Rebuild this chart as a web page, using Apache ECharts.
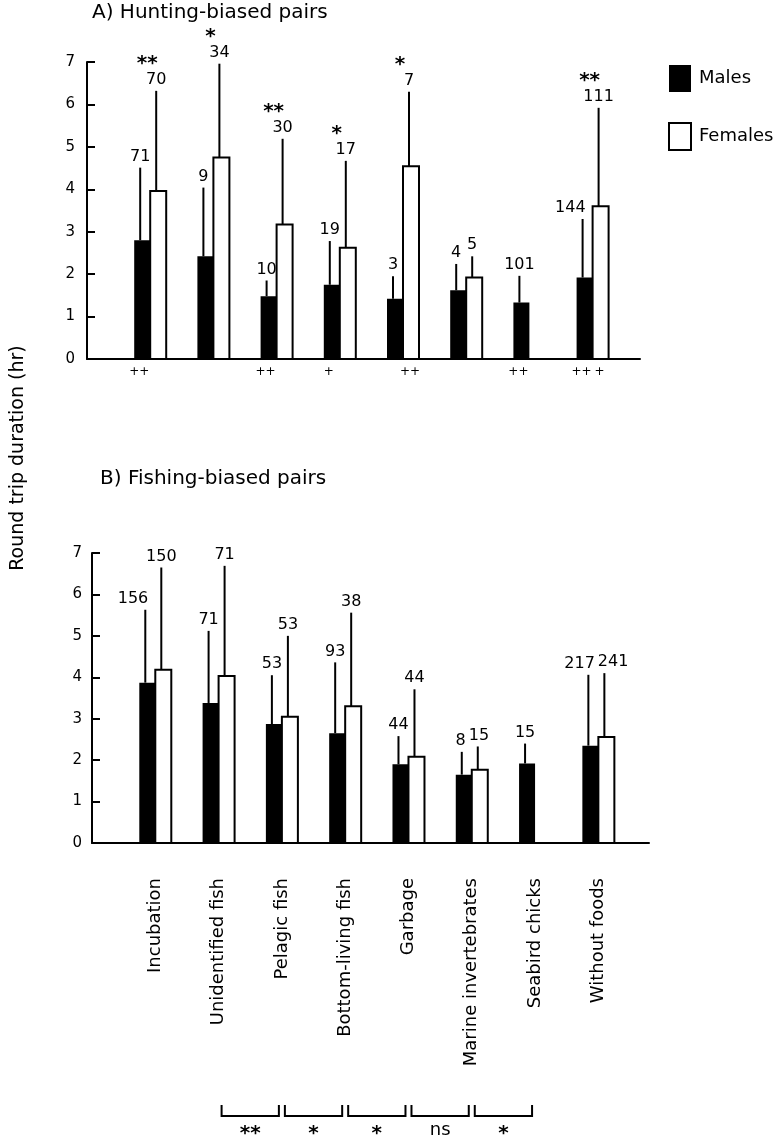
<!DOCTYPE html>
<html>
<head>
<meta charset="utf-8">
<script src="https://cdn.jsdelivr.net/npm/echarts@6/dist/echarts.min.js"></script>
<style>
html,body{margin:0;padding:0;background:#fff;}
#chart{width:776px;height:1137px;}
</style>
</head>
<body>
<div id="chart"></div>
<script>
// ---------- data ----------
const categories = ['Incubation', 'Unidentified fish', 'Pelagic fish', 'Bottom-living fish', 'Garbage', 'Marine invertebrates', 'Seabird chicks', 'Without foods'];
const yTicks = [0, 1, 2, 3, 4, 5, 6, 7];

// A) Hunting-biased pairs: mean, upper end of error bar, sample size
const huntMaleMean   = [2.80, 2.42, 1.48, 1.75, 1.42, 1.62, 1.33, 1.92];
const huntMaleErr    = [4.51, 4.04, 1.85, 2.78, 1.95, 2.24, 1.96, 3.30];
const huntMaleN      = [71, 9, 10, 19, 3, 4, 101, 144];
const huntFemaleMean = [3.96, 4.75, 3.17, 2.62, 4.54, 1.92, null, 3.60];
const huntFemaleErr  = [6.32, 6.96, 5.19, 4.67, 6.30, 2.42, null, 5.92];
const huntFemaleN    = [70, 34, 30, 17, 7, 5, null, 111];
const huntStars      = ['**', '*', '**', '*', '*', '', '', '**'];
const huntPlusMale   = ['++', '', '++', '+', '', '', '++', '++'];
const huntPlusFemale = ['', '', '', '', '++', '', '', '+'];

// B) Fishing-biased pairs
const fishMaleMean   = [3.87, 3.38, 2.87, 2.65, 1.90, 1.65, 1.92, 2.35];
const fishMaleErr    = [5.63, 5.12, 4.05, 4.36, 2.58, 2.20, 2.40, 4.06];
const fishMaleN      = [156, 71, 53, 93, 44, 8, 15, 217];
const fishFemaleMean = [4.18, 4.03, 3.05, 3.30, 2.08, 1.77, null, 2.56];
const fishFemaleErr  = [6.65, 6.69, 5.00, 5.56, 3.71, 2.33, null, 4.10];
const fishFemaleN    = [150, 71, 53, 38, 44, 15, null, 241];

// comparisons between successive categories (1-based category positions)
const bracketFrom   = [2, 3, 4, 5, 6];
const bracketTo     = [3, 4, 5, 6, 7];
const bracketLabels = ['**', '*', '*', 'ns', '*'];

// ---------- helpers ----------
const FONT = '"DejaVu Sans", Arial, sans-serif';
const BW = 16;          // bar width in px
const NFS = 16;         // sample size label font size

function barSeries(name, axis, means, errs, isMale) {
  const data = [];
  means.forEach((m, i) => { if (m != null) data.push([i + 1, m, errs[i]]); });
  return {
    type: 'custom', name: name, xAxisIndex: axis, yAxisIndex: axis,
    itemStyle: isMale ? { color: '#000' } : { color: '#fff', borderColor: '#000', borderWidth: 2 },
    data: data,
    renderItem: function (params, api) {
      const x = api.value(0);
      const base = api.coord([x, 0]);
      const top = api.coord([x, api.value(1)]);
      const et = api.coord([x, api.value(2)]);
      const left = isMale ? base[0] - BW : base[0];
      const lx = left + BW / 2 - 2;
      return {
        type: 'group',
        children: [
          { type: 'rect', shape: { x: left, y: top[1], width: BW, height: base[1] - top[1] },
            style: isMale ? { fill: '#000' } : { fill: '#fff', stroke: '#000', lineWidth: 2 } },
          { type: 'line', shape: { x1: lx, y1: top[1], x2: lx, y2: et[1] },
            style: { stroke: '#000', lineWidth: 2 } }
        ]
      };
    }
  };
}

function labelSeries(axis, mErr, mN, fErr, fN) {
  return {
    type: 'custom', xAxisIndex: axis, yAxisIndex: axis, silent: true,
    data: categories.map((c, i) => [i + 1]),
    renderItem: function (params, api) {
      const i = params.dataIndex;
      const x = api.value(0);
      const c = api.coord([x, 0])[0];
      const mx = c - BW / 2 - 2, fx = c + BW / 2 - 2;
      const wOf = s => String(s).length * 0.636 * NFS;
      const mY = api.coord([x, mErr[i]])[1] - 3;
      let mC = mx;
      const mW = wOf(mN[i]);
      const children = [];
      let fC = fx, fY = null, fW = 0;
      if (fN[i] != null) {
        fY = api.coord([x, fErr[i]])[1] - 3;
        fW = wOf(fN[i]);
        // female error line passes through the male label: shift male label left
        if (fY < mY - NFS * 0.75 && mC + mW / 2 > fx - 1) {
          mC = mx + 3 - mW / 2;
        }
        // labels at similar height overlapping: push apart
        if (Math.abs(fY - mY) < NFS * 0.8) {
          const ov = (mC + mW / 2) - (fC - fW / 2) + 3;
          if (ov > 0) { mC -= ov / 2; fC += ov / 2; }
        }
        children.push({ type: 'text', x: fC, y: fY,
          style: { text: String(fN[i]), font: NFS + 'px ' + FONT, fill: '#000', textAlign: 'center', textVerticalAlign: 'bottom' } });
      }
      children.push({ type: 'text', x: mC, y: mY,
        style: { text: String(mN[i]), font: NFS + 'px ' + FONT, fill: '#000', textAlign: 'center', textVerticalAlign: 'bottom' } });
      return { type: 'group', children: children };
    }
  };
}

const starSeries = {
  type: 'custom', xAxisIndex: 0, yAxisIndex: 0, silent: true,
  data: categories.map((c, i) => [i + 1]),
  renderItem: function (params, api) {
    const i = params.dataIndex;
    if (!huntStars[i]) return null;
    const x = api.value(0);
    const c = api.coord([x, 0])[0];
    const y = api.coord([x, huntFemaleErr[i]])[1] - 27;
    return { type: 'text', x: c - 3, y: y,
      style: { text: huntStars[i], font: 'bold 20px ' + FONT, fill: '#000', textAlign: 'center', textVerticalAlign: 'middle' } };
  }
};

const plusSeries = {
  type: 'custom', xAxisIndex: 0, yAxisIndex: 0, silent: true,
  data: categories.map((c, i) => [i + 1]),
  renderItem: function (params, api) {
    const i = params.dataIndex;
    const x = api.value(0);
    const p = api.coord([x, 0]);
    const ch = [];
    if (huntPlusMale[i]) ch.push({ type: 'text', x: p[0] - BW / 2 - 3, y: p[1] + 13,
      style: { text: huntPlusMale[i], font: '12px ' + FONT, fill: '#000', textAlign: 'center', textVerticalAlign: 'middle' } });
    if (huntPlusFemale[i]) ch.push({ type: 'text', x: p[0] + BW / 2 - 1, y: p[1] + 13,
      style: { text: huntPlusFemale[i], font: '12px ' + FONT, fill: '#000', textAlign: 'center', textVerticalAlign: 'middle' } });
    return { type: 'group', children: ch };
  }
};

const bracketSeries = {
  type: 'custom', xAxisIndex: 1, yAxisIndex: 1, silent: true,
  data: bracketFrom.map((f, i) => [f, bracketTo[i]]),
  renderItem: function (params, api) {
    const i = params.dataIndex;
    const a = api.coord([api.value(0), 0]);
    const b = api.coord([api.value(1), 0]);
    const x1 = a[0] + 3, x2 = b[0] - 3;
    const y1 = a[1] + 262, y2 = a[1] + 273;
    const lab = bracketLabels[i];
    const isStar = /^\*+$/.test(lab);
    return {
      type: 'group',
      children: [
        { type: 'polyline', shape: { points: [[x1, y1], [x1, y2], [x2, y2], [x2, y1]] },
          style: { stroke: '#000', lineWidth: 2, fill: null } },
        { type: 'text', x: (x1 + x2) / 2, y: a[1] + (isStar ? 291 : 287),
          style: { text: lab, font: (isStar ? 'bold 20px ' : '18px ') + FONT, fill: '#000', textAlign: 'center', textVerticalAlign: 'middle' } }
      ]
    };
  }
};

function yAxis(grid, margin) {
  return {
    type: 'value', gridIndex: grid, min: yTicks[0], max: yTicks[yTicks.length - 1], interval: 1,
    axisLine: { show: true, lineStyle: { color: '#000', width: 2 } },
    axisTick: { show: true, inside: true, length: 8, lineStyle: { color: '#000', width: 2 } },
    axisLabel: { color: '#000', fontSize: 15, fontFamily: FONT, margin: margin },
    splitLine: { show: false }
  };
}

const chart = echarts.init(document.getElementById('chart'), null, { renderer: 'canvas' });
chart.setOption({
  backgroundColor: '#fff',
  animation: false,
  title: [
    { text: 'A) Hunting-biased pairs', left: 92, top: 3, padding: 0,
      textStyle: { fontFamily: FONT, fontSize: 20, fontWeight: 'normal', color: '#000' } },
    { text: 'B) Fishing-biased pairs', left: 100, top: 469, padding: 0,
      textStyle: { fontFamily: FONT, fontSize: 20, fontWeight: 'normal', color: '#000' } }
  ],
  legend: {
    orient: 'vertical', left: 668, top: 65, padding: 0,
    itemWidth: 22, itemHeight: 27, itemGap: 30,
    textStyle: { fontFamily: FONT, fontSize: 18, color: '#000', padding: [0, 0, 0, 3] },
    data: [
      { name: 'Males', icon: 'rect', itemStyle: { color: '#000', borderWidth: 0 } },
      { name: 'Females', icon: 'rect', itemStyle: { color: '#fff', borderColor: '#000', borderWidth: 2 } }
    ],
    selectedMode: false
  },
  graphic: [
    { type: 'text', x: 18, y: 458, rotation: Math.PI / 2,
      style: { text: 'Round trip duration (hr)', font: '19px ' + FONT, fill: '#000', textAlign: 'center', textVerticalAlign: 'middle' } }
  ],
  grid: [
    { left: 87, right: 136, top: 62, bottom: 778 },
    { left: 92, right: 127, top: 553, bottom: 294 }
  ],
  xAxis: [
    { type: 'value', gridIndex: 0, min: 0, max: 8.75, interval: 1,
      axisLine: { show: true, lineStyle: { color: '#000', width: 2 } },
      axisTick: { show: false }, axisLabel: { show: false }, splitLine: { show: false } },
    { type: 'value', gridIndex: 1, min: 0, max: 8.8, interval: 1,
      axisLine: { show: true, lineStyle: { color: '#000', width: 2 } },
      axisTick: { show: false }, splitLine: { show: false },
      axisLabel: { show: true, rotate: 90, margin: 35, color: '#000', fontSize: 18, fontFamily: FONT,
        showMinLabel: false, showMaxLabel: false,
        formatter: function (v) { return categories[Math.round(v) - 1] || ''; } } }
  ],
  yAxis: [yAxis(0, 12), yAxis(1, 10)],
  series: [
    barSeries('Males', 0, huntMaleMean, huntMaleErr, true),
    barSeries('Females', 0, huntFemaleMean, huntFemaleErr, false),
    labelSeries(0, huntMaleErr, huntMaleN, huntFemaleErr, huntFemaleN),
    starSeries,
    plusSeries,
    barSeries('Males', 1, fishMaleMean, fishMaleErr, true),
    barSeries('Females', 1, fishFemaleMean, fishFemaleErr, false),
    labelSeries(1, fishMaleErr, fishMaleN, fishFemaleErr, fishFemaleN),
    bracketSeries
  ]
});
</script>
</body>
</html>
